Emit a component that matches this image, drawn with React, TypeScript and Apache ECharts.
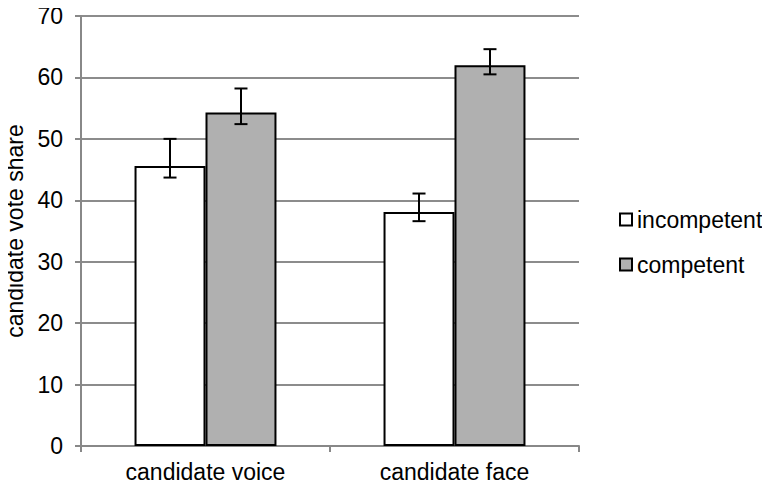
import React, { useEffect, useRef } from "react";
import * as echarts from "echarts";

const categories = ["candidate voice", "candidate face"];
const seriesNames = ["incompetent", "competent"];
const incompetent = [45.6, 38.1];
const competent = [54.3, 62.0];
const incompetentLow = [43.7, 36.6];
const incompetentHigh = [50.0, 41.1];
const competentLow = [52.4, 60.5];
const competentHigh = [58.2, 64.6];
const yTicks = [0, 10, 20, 30, 40, 50, 60, 70];

const FONT = "Liberation Sans, Arial, sans-serif";
const FS = 23;
const CAT_GAP = 0.43;

export default function App() {
  const ref = useRef<HTMLDivElement>(null);
  useEffect(() => {
    if (!ref.current) return;
    const chart = echarts.init(ref.current, null, { renderer: "svg" });
    const errData: number[][] = [];
    categories.forEach((_, i) => {
      errData.push([i, incompetentLow[i], incompetentHigh[i], 0]);
      errData.push([i, competentLow[i], competentHigh[i], 1]);
    });
    chart.setOption({
      animation: false,
      textStyle: { fontFamily: FONT },
      grid: { left: 81, top: 16, right: 191, bottom: 42, containLabel: false, outerBoundsMode: "none" },
      legend: {
        orient: "vertical",
        left: 619,
        top: 208,
        itemWidth: 12,
        itemHeight: 12,
        itemGap: 22,
        icon: "rect",
        padding: 0,
        data: seriesNames,
        textStyle: { fontSize: FS, color: "#000", fontFamily: FONT, padding: [0, 0, 0, 0] },
      },
      xAxis: {
        type: "category",
        data: categories,
        axisLine: { lineStyle: { color: "#888", width: 2 } },
        axisTick: { show: true, length: 6, lineStyle: { color: "#888", width: 2 } },
        axisLabel: { fontSize: FS, color: "#000", margin: 14, fontFamily: FONT },
      },
      yAxis: {
        type: "value",
        min: 0,
        max: yTicks[yTicks.length - 1],
        interval: 10,
        name: "candidate vote share",
        nameLocation: "middle",
        nameGap: 53,
        nameTextStyle: { fontSize: FS, color: "#000", fontFamily: FONT },
        axisLine: { show: true, lineStyle: { color: "#888", width: 2 } },
        axisTick: { show: true, length: 6, lineStyle: { color: "#888", width: 2 } },
        axisLabel: { fontSize: FS, color: "#000", margin: 18, fontFamily: FONT },
        splitLine: { lineStyle: { color: "#8c8c8c", width: 2 } },
      },
      series: [
        {
          name: seriesNames[0],
          type: "bar",
          data: incompetent,
          barGap: "0%",
          barCategoryGap: CAT_GAP * 100 + "%",
          itemStyle: { color: "#fff", borderColor: "#000", borderWidth: 2 },
        },
        {
          name: seriesNames[1],
          type: "bar",
          data: competent,
          barGap: "0%",
          barCategoryGap: CAT_GAP * 100 + "%",
          itemStyle: { color: "#b0b0b0", borderColor: "#000", borderWidth: 2 },
        },
        {
          type: "custom",
          z: 10,
          data: errData,
          encode: { x: 0, y: [1, 2] },
          renderItem: (params: any, api: any) => {
            const cat = api.value(0);
            const lo = api.value(1);
            const hi = api.value(2);
            const g = api.value(3);
            const band = api.size([1, 0])[0];
            const bw = (band * (1 - CAT_GAP)) / 2;
            const off = g === 0 ? -bw / 2 : bw / 2;
            const pLo = api.coord([cat, lo]);
            const pHi = api.coord([cat, hi]);
            const x = pLo[0] + off;
            const cap = 6.5;
            const style = { stroke: "#000", lineWidth: 2, fill: "none" };
            return {
              type: "group",
              children: [
                { type: "line", shape: { x1: x, y1: pLo[1], x2: x, y2: pHi[1] }, style },
                { type: "line", shape: { x1: x - cap, y1: pLo[1], x2: x + cap, y2: pLo[1] }, style },
                { type: "line", shape: { x1: x - cap, y1: pHi[1], x2: x + cap, y2: pHi[1] }, style },
              ],
            };
          },
        },
      ],
    });
    return () => chart.dispose();
  }, []);
  return <div ref={ref} style={{ width: 770, height: 488, margin: -8 }} />;
}
